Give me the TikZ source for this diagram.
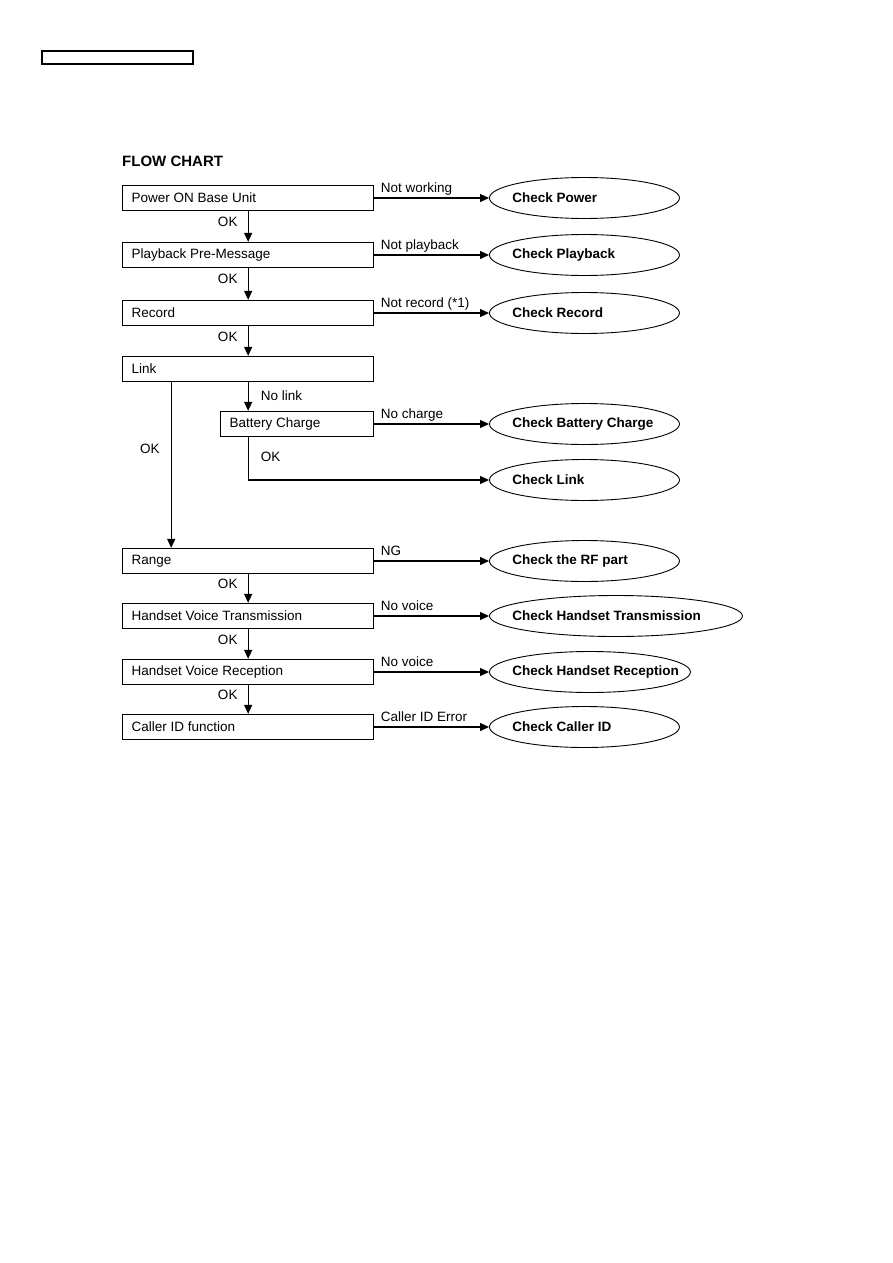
\documentclass[tikz,border=0pt]{standalone}
\usepackage{fontspec}
\setmainfont{Liberation Sans}
\usetikzlibrary{shapes.geometric,arrows.meta,calc}

\tikzset{
  stepbox/.style={draw, line width=1.3pt, minimum height=25pt, inner xsep=9pt, inner ysep=0pt,
    align=flush left, anchor=west, font=\fontsize{13.5}{15}\selectfont},
  oval/.style={ellipse, draw, line width=0.9pt, minimum height=41pt, inner xsep=-40pt, inner ysep=0pt,
    align=flush left, anchor=west, font=\fontsize{13.5}{15}\selectfont\bfseries},
  flow/.style={line width=1.3pt, -{Triangle[length=9pt,width=8pt]}},
  lbl/.style={inner sep=2pt, font=\fontsize{13.5}{15}\selectfont},
  hlbl/.style={lbl, pos=0, anchor=base west, xshift=4pt, yshift=5.5pt},
}

\begin{document}
\begin{tikzpicture}[x=1pt,y=-1pt]
%
	\useasboundingbox (0,0) rectangle (893,1263);
	\draw[line width=1.2pt] (42,51) rectangle (193,64);
	\node[anchor=base west, inner sep=0, font=\fontsize{15}{18}\selectfont\bfseries] (ttl) at (122,166) {FLOW CHART};
%
	\node[stepbox, text width=233pt] (pw) at (122,198) {Power ON Base Unit};
	\node[stepbox, text width=233pt] (pb) at (122,255) {Playback Pre-Message};
	\node[stepbox, text width=233pt] (rc) at (122,313) {Record};
	\node[stepbox, text width=233pt] (lk) at (122,369) {Link};
	\node[stepbox, text width=135pt] (bc) at (220,424) {Battery Charge};
	\node[stepbox, text width=233pt] (rg) at (122,561) {Range};
	\node[stepbox, text width=233pt] (tx) at (122,616) {Handset Voice Transmission};
	\node[stepbox, text width=233pt] (rx) at (122,672) {Handset Voice Reception};
	\node[stepbox, text width=233pt] (cid) at (122,727) {Caller ID function};
%
	\node[oval, minimum width=190pt, text width=144pt] (ckpw) at (489,198) {Check Power};
	\node[oval, minimum width=190pt, text width=144pt] (ckpb) at (489,255) {Check Playback};
	\node[oval, minimum width=190pt, text width=144pt] (ckrc) at (489,313) {Check Record};
	\node[oval, minimum width=190pt, text width=144pt] (ckbc) at (489,424) {\mbox{Check Battery Charge}};
	\node[oval, minimum width=190pt, text width=144pt] (cklk) at (489,480) {Check Link};
	\node[oval, minimum width=190pt, text width=144pt] (ckrf) at (489,561) {Check the RF part};
	\node[oval, minimum width=253pt, text width=207pt] (cktx) at (489,616) {\mbox{Check Handset Transmission}};
	\node[oval, minimum width=201pt, text width=155pt] (ckrx) at (489,672) {\mbox{Check Handset Reception}};
	\node[oval, minimum width=190pt, text width=144pt] (ckid) at (489,727) {Check Caller ID};
%
	\draw[flow] (pw.south) -- node[lbl, pos=0.35, left, xshift=-8pt] {OK} (pb.north);
	\draw[flow] (pb.south) -- node[lbl, pos=0.35, left, xshift=-8pt] {OK} (rc.north);
	\draw[flow] (rc.south) -- node[lbl, pos=0.35, left, xshift=-8pt] {OK} (lk.north);
	\draw[flow] (lk.south) -- node[lbl, pos=0.47, right, xshift=10pt] {No link} (lk.south |- bc.north);
	\draw[flow] (lk.south |- bc.south) |- node[lbl, pos=0.23, right, xshift=10pt] {OK} (cklk.west);
	\draw[flow] ($(lk.south west)!0.195!(lk.south east)$) -- node[lbl, pos=0.4, left, xshift=-9pt] {OK}
		($(rg.north west)!0.195!(rg.north east)$);
	\draw[flow] (rg.south) -- node[lbl, pos=0.35, left, xshift=-8pt] {OK} (tx.north);
	\draw[flow] (tx.south) -- node[lbl, pos=0.35, left, xshift=-8pt] {OK} (rx.north);
	\draw[flow] (rx.south) -- node[lbl, pos=0.35, left, xshift=-8pt] {OK} (cid.north);
%
	\draw[flow] (pw.east) -- node[hlbl] {Not working} (ckpw.west);
	\draw[flow] (pb.east) -- node[hlbl] {Not playback} (ckpb.west);
	\draw[flow] (rc.east) -- node[hlbl] {Not record (*1)} (ckrc.west);
	\draw[flow] (bc.east) -- node[hlbl] {No charge} (ckbc.west);
	\draw[flow] (rg.east) -- node[hlbl] {NG} (ckrf.west);
	\draw[flow] (tx.east) -- node[hlbl] {No voice} (cktx.west);
	\draw[flow] (rx.east) -- node[hlbl] {No voice} (ckrx.west);
	\draw[flow] (cid.east) -- node[hlbl] {Caller ID Error} (ckid.west);
%
\end{tikzpicture}
\end{document}
